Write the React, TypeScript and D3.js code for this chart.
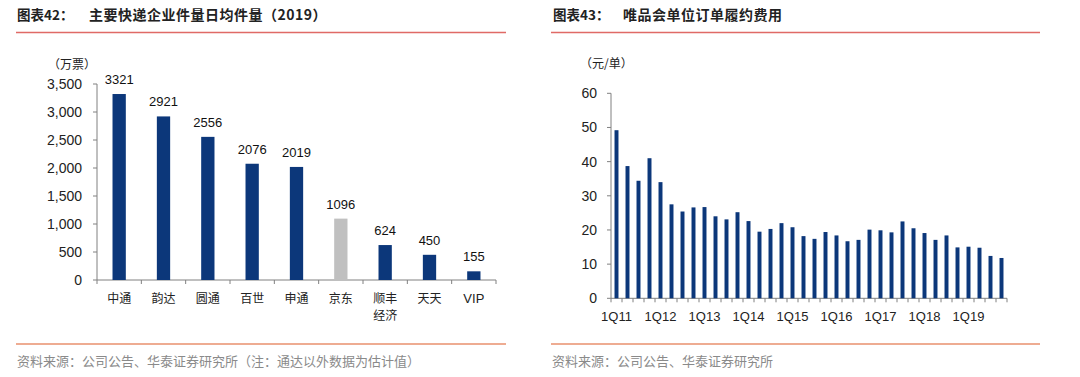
import React from "react";
import * as d3 from "d3";

const companies = ["中通", "韵达", "圆通", "百世", "申通", "京东", "顺丰|经济", "天天", "VIP"];
const dailyVolume = [3321, 2921, 2556, 2076, 2019, 1096, 624, 450, 155];
const highlightGray = ["京东"];
const leftTicks = [0, 500, 1000, 1500, 2000, 2500, 3000, 3500];

const quarters = [
  "1Q11", "2Q11", "3Q11", "4Q11", "1Q12", "2Q12", "3Q12", "4Q12",
  "1Q13", "2Q13", "3Q13", "4Q13", "1Q14", "2Q14", "3Q14", "4Q14",
  "1Q15", "2Q15", "3Q15", "4Q15", "1Q16", "2Q16", "3Q16", "4Q16",
  "1Q17", "2Q17", "3Q17", "4Q17", "1Q18", "2Q18", "3Q18", "4Q18",
  "1Q19", "2Q19", "3Q19", "4Q19",
];
const fulfilCost = [
  49.2, 38.7, 34.4, 41.0, 34.0, 27.5, 25.4, 26.6,
  26.7, 24.0, 23.1, 25.2, 22.6, 19.5, 20.3, 22.0,
  20.8, 18.2, 17.4, 19.4, 18.4, 16.7, 17.1, 20.1,
  19.9, 19.3, 22.5, 20.5, 19.1, 17.1, 18.4, 14.9,
  15.1, 14.8, 12.4, 11.8,
];
const rightTicks = [0, 10, 20, 30, 40, 50, 60];

const NAVY = "#0c377a";
const GRAY_BAR = "#c0c0c0";
const AXIS = "#808080";
const CJK = "'Noto Sans CJK SC', 'Noto Sans', sans-serif";
const NUM = "'Liberation Sans', Arial, sans-serif";
const FOOT = "#8a8a8a";

function LeftChart() {
  const x = d3.scaleBand<string>().domain(companies).range([97, 496]).paddingInner(0).paddingOuter(0);
  const y = d3.scaleLinear().domain([0, 3500]).range([280, 84]);
  const bw = x.bandwidth() * 0.3;
  return (
    <g>
      <text x={17} y={20} fontFamily={CJK} fontWeight={700} fontSize={13.5} fill="#222">图表42：</text>
      <text x={89} y={20} fontFamily={CJK} fontWeight={700} fontSize={14} fill="#222" letterSpacing={0.5}>主要快递企业件量日均件量（2019）</text>
      <line x1={16} x2={506} y1={32.5} y2={32.5} stroke="#e06a66" strokeWidth={1.5} />
      <text x={48} y={69} fontFamily={CJK} fontSize={12} fill="#222">（万票）</text>
      {leftTicks.map((t) => (
        <g key={t}>
          <line x1={93} x2={97} y1={y(t)} y2={y(t)} stroke={AXIS} />
          <text x={82} y={y(t) + 5} textAnchor="end" fontFamily={NUM} fontSize={14} fill="#222">{d3.format(",")(t)}</text>
        </g>
      ))}
      <line x1={97} x2={97} y1={y(3500)} y2={280} stroke={AXIS} />
      <line x1={97} x2={496} y1={280} y2={280} stroke={AXIS} />
      {companies.map((c) => (
        <line key={"t" + c} x1={x(c)!} x2={x(c)!} y1={280} y2={284} stroke={AXIS} />
      ))}
      <line x1={496} x2={496} y1={280} y2={284} stroke={AXIS} />
      {companies.map((c, i) => {
        const cx = x(c)! + x.bandwidth() / 2;
        const v = dailyVolume[i];
        const lines = c.split("|");
        const isLatin = /^[A-Z]+$/.test(c);
        return (
          <g key={c}>
            <rect x={cx - bw / 2} y={y(v)} width={bw} height={280 - y(v)} fill={highlightGray.includes(c) ? GRAY_BAR : NAVY} />
            <text x={cx} y={y(v) - 10} textAnchor="middle" fontFamily={NUM} fontSize={13} fill="#111">{v}</text>
            {lines.map((l, j) => (
              <text key={l} x={cx} y={302.5 + j * 17.5} textAnchor="middle" fontFamily={isLatin ? NUM : CJK} fontSize={isLatin ? 13 : 12} fill="#222">{l}</text>
            ))}
          </g>
        );
      })}
      <line x1={16} x2={506} y1={344} y2={344} stroke="#e8906e" strokeWidth={1.5} />
      <text x={17} y={366} fontFamily={CJK} fontSize={13} fill={FOOT}>资料来源：公司公告、华泰证券研究所（注：通达以外数据为估计值）</text>
    </g>
  );
}

function RightChart() {
  const x = d3.scaleBand<string>().domain(quarters).range([611, 1007]).paddingInner(0).paddingOuter(0);
  const y = d3.scaleLinear().domain([0, 60]).range([298.3, 93.3]);
  const bw = x.bandwidth() * 0.36;
  return (
    <g>
      <text x={553} y={20} fontFamily={CJK} fontWeight={700} fontSize={13.5} fill="#222">图表43：</text>
      <text x={623} y={20} fontFamily={CJK} fontWeight={700} fontSize={14} fill="#222" letterSpacing={0.5}>唯品会单位订单履约费用</text>
      <line x1={551} x2={1040} y1={32.5} y2={32.5} stroke="#e06a66" strokeWidth={1.5} />
      <text x={580} y={68} fontFamily={CJK} fontSize={12} fill="#222">（元/单）</text>
      {rightTicks.map((t) => (
        <g key={t}>
          <line x1={607} x2={611} y1={y(t)} y2={y(t)} stroke={AXIS} />
          <text x={597} y={y(t) + 5} textAnchor="end" fontFamily={NUM} fontSize={14} fill="#222">{t}</text>
        </g>
      ))}
      <line x1={611} x2={611} y1={y(60)} y2={y(0)} stroke={AXIS} />
      <line x1={611} x2={1007} y1={y(0)} y2={y(0)} stroke={AXIS} />
      {quarters.map((q) => (
        <line key={"t" + q} x1={x(q)!} x2={x(q)!} y1={y(0)} y2={y(0) + 4} stroke={AXIS} />
      ))}
      <line x1={1007} x2={1007} y1={y(0)} y2={y(0) + 4} stroke={AXIS} />
      {quarters.map((q, i) => {
        const cx = x(q)! + x.bandwidth() / 2;
        const v = fulfilCost[i];
        return (
          <g key={q}>
            <rect x={cx - bw / 2} y={y(v)} width={bw} height={y(0) - y(v)} fill={NAVY} />
            {q.startsWith("1Q") && (
              <text x={cx} y={320.5} textAnchor="middle" fontFamily={NUM} fontSize={13} fill="#222">{q}</text>
            )}
          </g>
        );
      })}
      <line x1={551} x2={1040} y1={344} y2={344} stroke="#e8906e" strokeWidth={1.5} />
      <text x={552} y={366} fontFamily={CJK} fontSize={13} fill={FOOT}>资料来源：公司公告、华泰证券研究所</text>
    </g>
  );
}

export default function App() {
  return (
    <svg
      width={1080}
      height={377}
      viewBox="0 0 1080 377"
      style={{ position: "absolute", left: 0, top: 0, background: "#fff" }}
    >
      <rect width={1080} height={377} fill="#fff" />
      <LeftChart />
      <RightChart />
    </svg>
  );
}
